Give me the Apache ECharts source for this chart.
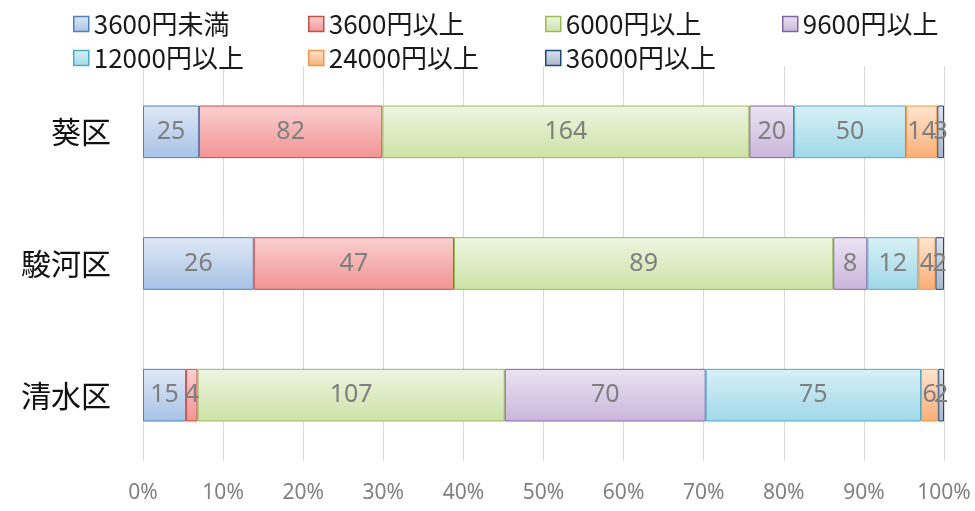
<!DOCTYPE html>
<html><head><meta charset="utf-8">
<script src="https://cdn.jsdelivr.net/npm/echarts@6/dist/echarts.min.js"></script>
<style>html,body{margin:0;padding:0;background:#fff}#c{width:975px;height:511px}</style>
</head><body><div id="c"></div>
<script>
const categories = ['葵区', '駿河区', '清水区'];
const seriesNames = ['3600円未満', '3600円以上', '6000円以上', '9600円以上', '12000円以上', '24000円以上', '36000円以上'];
const s3600u = [25, 26, 15];
const s3600 = [82, 47, 4];
const s6000 = [164, 89, 107];
const s9600 = [20, 8, 70];
const s12000 = [50, 12, 75];
const s24000 = [14, 4, 6];
const s36000 = [3, 2, 2];
const xTicks = ['0%', '10%', '20%', '30%', '40%', '50%', '60%', '70%', '80%', '90%', '100%'];

const raw = [s3600u, s3600, s6000, s9600, s12000, s24000, s36000];
const totals = categories.map((_, i) => raw.reduce((a, s) => a + s[i], 0));
const styles = [
  ['#dfe8f5', '#a7c2e6', '#4f81bd'],
  ['#fad0d0', '#f29393', '#c0504d'],
  ['#eef5e2', '#cde2a6', '#9bbb59'],
  ['#ebe3f2', '#c9b6db', '#8064a2'],
  ['#d8f0f6', '#a0d8e8', '#4bacc6'],
  ['#fee5cf', '#f9ae76', '#f79646'],
  ['#dde3ed', '#a8b5cb', '#1f497d']
];
const grad = (a, b) => new echarts.graphic.LinearGradient(0, 0, 0, 1, [{offset: 0, color: a}, {offset: 1, color: b}]);
const legendPos = [[68, 6], [303, 6], [540, 6], [777, 6], [68, 40], [303, 40], [540, 40]];
const series = seriesNames.map((n, k) => ({
  name: n, type: 'bar', stack: 'all', barWidth: '40%',
  data: raw[k].map((v, i) => v / totals[i] * 100),
  itemStyle: {color: grad(styles[k][0], styles[k][1]), borderColor: styles[k][2], borderWidth: 1},
  label: {show: true, position: 'inside', color: '#7f7f7f', fontSize: 25, fontFamily: 'Noto Sans',
    formatter: p => String(raw[k][p.dataIndex])}
}));
const legends = seriesNames.map((n, k) => ({
  data: [n], left: legendPos[k][0], top: legendPos[k][1], itemWidth: 15, itemHeight: 15, itemGap: 8,
  icon: 'rect', textStyle: {fontSize: 26, color: '#1a1a1a', fontFamily: 'Noto Sans CJK JP'},
  itemStyle: {borderWidth: 1.5}
}));
const chart = echarts.init(document.getElementById('c'));
chart.setOption({
  animation: false,
  legend: legends,
  grid: {left: 143, right: 31, top: 66, bottom: 50, containLabel: false},
  xAxis: {type: 'value', min: 0, max: 100, interval: 10,
    axisLine: {show: false}, axisTick: {show: false},
    splitLine: {lineStyle: {color: '#d9d9d9'}},
    axisLabel: {color: '#808080', fontSize: 21, margin: 22, fontFamily: 'Noto Sans',
      formatter: v => xTicks[Math.round(v / 10)]}},
  yAxis: {type: 'category', data: categories, inverse: true,
    axisLine: {show: false}, axisTick: {show: false},
    axisLabel: {color: '#111', fontSize: 30, margin: 32, fontFamily: 'Noto Sans CJK JP'}},
  series: series
});
</script></body></html>
